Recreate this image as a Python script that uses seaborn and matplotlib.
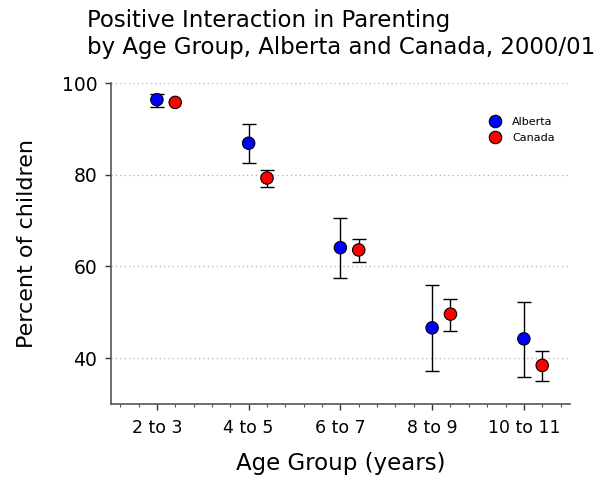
import numpy as np
import pandas as pd
import matplotlib
matplotlib.use("Agg")
import matplotlib.pyplot as plt
import seaborn as sns
from matplotlib.ticker import MultipleLocator

categories = ["2 to 3", "4 to 5", "6 to 7", "8 to 9", "10 to 11"]
alberta = [96.4, 86.9, 64.1, 46.6, 44.2]
alberta_low = [94.7, 82.5, 57.4, 37.1, 35.8]
alberta_high = [97.7, 91.0, 70.6, 55.9, 52.3]
canada = [95.8, 79.3, 63.6, 49.6, 38.4]
canada_low = [95.8, 77.3, 61.0, 46.0, 34.9]
canada_high = [95.8, 81.1, 66.0, 52.9, 41.5]
yticks = [40, 60, 80, 100]

sns.set_theme(style="white")
plt.rcParams['font.family'] = ['DejaVu Sans']
plt.rcParams['text.color'] = 'black'
plt.rcParams['axes.labelcolor'] = 'black'
plt.rcParams['xtick.color'] = 'black'
plt.rcParams['ytick.color'] = 'black'

rows = []
for i, c in enumerate(categories):
    rows.append(dict(group=c, pos=i, region="Alberta", value=alberta[i],
                     low=alberta_low[i], high=alberta_high[i]))
    rows.append(dict(group=c, pos=i + 0.2, region="Canada", value=canada[i],
                     low=canada_low[i], high=canada_high[i]))
df = pd.DataFrame(rows)

fig = plt.figure(figsize=(6.1, 4.78), dpi=100)
ax = fig.add_axes([0.182, 0.155, 0.752, 0.671])

for reg in ["Alberta", "Canada"]:
    d = df[(df.region == reg) & (df.high > df.low)]
    ax.errorbar(d.pos, d.value, yerr=[d.value - d.low, d.high - d.value],
                fmt="none", ecolor="black", elinewidth=1.0, capsize=4.8,
                capthick=1.0, zorder=2)

sns.scatterplot(data=df, x="pos", y="value", hue="region",
                palette={"Alberta": "#0000ff", "Canada": "#ff0000"},
                s=80, edgecolor="black", linewidth=0.8, ax=ax, zorder=3)

ax.set_xlim(-0.5, 4.5)
ax.set_ylim(30, 100)
ax.set_xticks(range(len(categories)))
ax.set_xticklabels(categories, fontsize=12.5)
ax.xaxis.set_minor_locator(MultipleLocator(0.2))
ax.set_yticks(yticks)
ax.set_yticklabels([str(t) for t in yticks], fontsize=13.5)
for t in yticks:
    ax.axhline(t, color="#b0b0b0", linestyle=(0, (1, 2.5)), linewidth=0.9, zorder=1)

for s in ["top", "right"]:
    ax.spines[s].set_visible(False)
for s in ["left", "bottom"]:
    ax.spines[s].set_color("#555555")
    ax.spines[s].set_linewidth(1.2)
ax.tick_params(axis="both", which="major", direction="out", length=4, width=1,
               color="#333333", bottom=True, left=True, pad=6)
ax.tick_params(axis="x", which="minor", direction="out", length=2, width=0.8,
               color="#555555", bottom=True)
ax.tick_params(axis="x", which="major", pad=7)

ax.set_xlabel("Age Group (years)", fontsize=16.5, labelpad=11)
ax.set_ylabel("Percent of children", fontsize=16, labelpad=18)

leg = ax.legend(loc="upper left", bbox_to_anchor=(0.79, 0.925), frameon=False,
                fontsize=8, handletextpad=0.6, labelspacing=0.55,
                markerscale=1.0, title=None)

fig.text(0.143, 0.957, "Positive Interaction in Parenting", fontsize=16.5,
         ha="left", va="center")
fig.text(0.143, 0.901, "by Age Group, Alberta and Canada, 2000/01", fontsize=16.5,
         ha="left", va="center")

fig.savefig("out.png", dpi=100)
